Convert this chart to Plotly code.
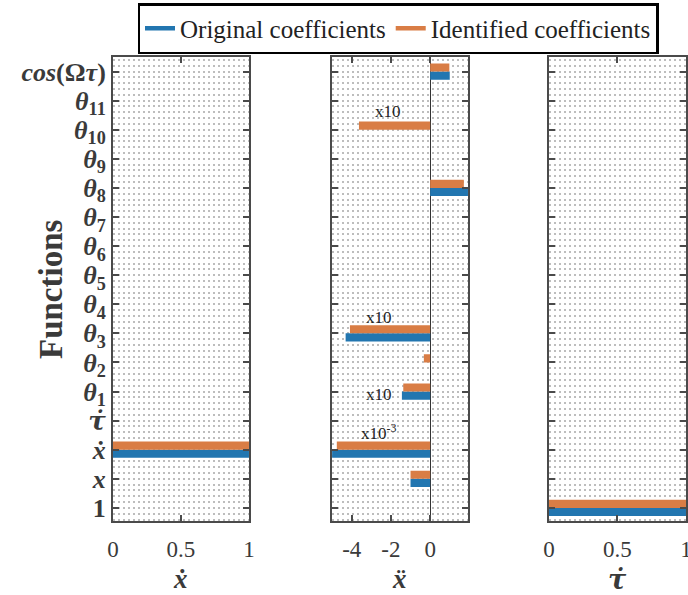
import plotly.graph_objects as go

# ---- data ----
categories = ["1", "x", "ẋ", "τ̇", "θ1", "θ2", "θ3", "θ4", "θ5", "θ6", "θ7",
              "θ8", "θ9", "θ10", "θ11", "cos(Ωτ)"]
tick_text = ["<b>1</b>", "<b><i>x</i></b>", "<b><i>ẋ</i></b>",
             "<b><i><span style='font-family:DejaVu Serif'>τ̇</span></i></b>",
             "<b><i>θ</i><sub>1</sub></b>", "<b><i>θ</i><sub>2</sub></b>",
             "<b><i>θ</i><sub>3</sub></b>", "<b><i>θ</i><sub>4</sub></b>",
             "<b><i>θ</i><sub>5</sub></b>", "<b><i>θ</i><sub>6</sub></b>",
             "<b><i>θ</i><sub>7</sub></b>", "<b><i>θ</i><sub>8</sub></b>",
             "<b><i>θ</i><sub>9</sub></b>", "<b><i>θ</i><sub>10</sub></b>",
             "<b><i>θ</i><sub>11</sub></b>", "<b><i>cos</i>(Ω<i>τ</i>)</b>"]
positions = list(range(1, 17))

orig_xdot  = [0, 0, 1, 0, 0, 0, 0, 0, 0, 0, 0, 0, 0, 0, 0, 0]
ident_xdot = [0, 0, 1, 0, 0, 0, 0, 0, 0, 0, 0, 0, 0, 0, 0, 0]

orig_xddot  = [0, -1.0, -5.0, 0, -1.44, 0, -4.31, 0, 0, 0, 0, 1.95, 0, 0, 0, 1.0]
ident_xddot = [0, -1.0, -4.76, 0, -1.37, -0.32, -4.09, 0, 0, 0, 0, 1.72, 0, -3.63, 0, 0.98]

orig_taudot  = [1, 0, 0, 0, 0, 0, 0, 0, 0, 0, 0, 0, 0, 0, 0, 0]
ident_taudot = [1, 0, 0, 0, 0, 0, 0, 0, 0, 0, 0, 0, 0, 0, 0, 0]

series_names = ["Original coefficients", "Identified coefficients"]
x_titles = ["<b><i>ẋ</i></b>", "<b><i>ẍ</i></b>",
            "<b><i><span style='font-family:DejaVu Serif'>τ̇</span></i></b>"]
y_title = "<b>Functions</b>"

BLUE = "#2276b0"
ORANGE = "#d97d45"
AX = "#4a4a4a"
TXT = "#3a3a3a"
SERIF = "Liberation Serif"

fig = go.Figure()
panels = [(orig_xdot, ident_xdot), (orig_xddot, ident_xddot), (orig_taudot, ident_taudot)]
for i, (o, d) in enumerate(panels):
    xa = "x" if i == 0 else f"x{i+1}"
    ya = "y" if i == 0 else f"y{i+1}"
    fig.add_trace(go.Bar(y=positions, x=o, orientation="h", marker_color=BLUE,
                         marker_line_width=0, xaxis=xa, yaxis=ya, showlegend=False,
                         name=series_names[0]))
    fig.add_trace(go.Bar(y=positions, x=d, orientation="h", marker_color=ORANGE,
                         marker_line_width=0, xaxis=xa, yaxis=ya, showlegend=False,
                         name=series_names[1]))

# legend-only line samples
fig.add_trace(go.Scatter(x=[None], y=[None], mode="lines", line=dict(color=BLUE, width=4.5),
                         name=series_names[0], xaxis="x", yaxis="y"))
fig.add_trace(go.Scatter(x=[None], y=[None], mode="lines", line=dict(color=ORANGE, width=4.5),
                         name=series_names[1], xaxis="x", yaxis="y"))

domains = [[0, 0.2373], [0.3817, 0.6195], [0.7609, 1.0]]
xranges = [[0, 1], [-5.02, 1.93], [0, 1]]
xtickvals = [[0, 0.5, 1], [-4, -2, 0], [0, 0.5, 1]]
xticktext = [["0", "0.5", "1"], ["-4", "-2", "0"], ["0", "0.5", "1"]]

layout = dict(
    width=688, height=595,
    margin=dict(l=113, r=2, t=57, b=74),
    paper_bgcolor="white", plot_bgcolor="white",
    barmode="group", bargap=0.44, bargroupgap=0,
    font=dict(family=SERIF, color=TXT),
    legend=dict(orientation="h", x=(398 - 113) / 573, xanchor="center",
                yref="container", y=1 - 3 / 595, yanchor="top",
                bordercolor="black", borderwidth=2.5, bgcolor="white",
                font=dict(family=SERIF, size=25, color="#222222"),
                itemwidth=30, tracegroupgap=0),
)
for i in range(3):
    k = "" if i == 0 else str(i + 1)
    layout[f"xaxis{k}"] = dict(
        domain=domains[i], range=xranges[i], anchor=f"y{k}",
        tickvals=xtickvals[i], ticktext=xticktext[i],
        ticks="inside", ticklen=6, tickwidth=2, tickcolor=AX,
        showline=True, linecolor=AX, linewidth=2, mirror="ticks",
        showgrid=False, zeroline=(i == 1), zerolinecolor="#333333", zerolinewidth=1,
        tickfont=dict(family=SERIF, size=23, color=TXT),
        ticklabelstandoff=6, automargin=False, ticklabeloverflow="allow",
        fixedrange=True,
    )
    layout[f"yaxis{k}"] = dict(
        domain=[0, 1], range=[0.55, 16.5], anchor=f"x{k}",
        tickvals=positions, ticktext=tick_text, showticklabels=(i == 0),
        ticks="inside", ticklen=6, tickwidth=2, tickcolor=AX,
        showline=True, linecolor=AX, linewidth=2, mirror="ticks",
        showgrid=False, zeroline=False,
        minor=dict(dtick=0.2, tick0=0, showgrid=True, gridcolor="#bdbdbd",
                   griddash="2px,3px", gridwidth=2, ticks=""),
        tickfont=dict(family=SERIF, size=26, color=TXT),
        automargin=False, ticklabeloverflow="allow",
        fixedrange=True,
    )
fig.update_layout(**layout)

# axis titles as annotations (pixel-placed)
for i in range(3):
    xa = "x" if i == 0 else f"x{i+1}"
    fig.add_annotation(text=x_titles[i], xref=f"{xa} domain", x=0.5, yref="paper",
                       y=-(579 - 521) / 464, yanchor="middle", showarrow=False,
                       font=dict(family=SERIF, size=27, color=TXT))
fig.add_annotation(text=y_title, xref="paper", x=-(113 - 51) / 573, xanchor="center",
                   yref="paper", y=(521 - 289) / 464, yanchor="middle", textangle=-90,
                   showarrow=False, font=dict(family=SERIF, size=33, color=TXT))

ann_font = dict(family=SERIF, size=17, color="#222222")
notes = [("x10", -2.17, 14.61), ("x10", -2.6, 7.54), ("x10", -2.6, 4.9), ("x10<sup>-3</sup>", -2.65, 3.62)]
for t, ax_, ay_ in notes:
    fig.add_annotation(text=t, x=ax_, y=ay_, xref="x2", yref="y2", showarrow=False, font=ann_font)

fig.write_html("out.html", config={"displayModeBar": False},
               post_script="document.body.style.margin='0px';")
